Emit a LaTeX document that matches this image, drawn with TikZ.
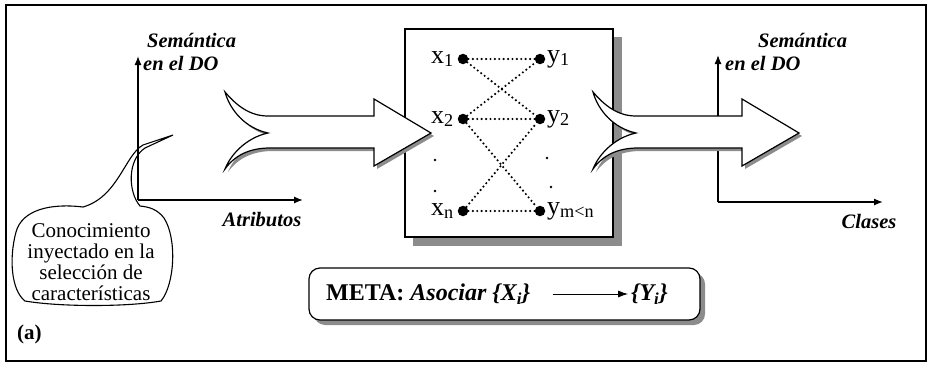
\documentclass[tikz,border=0pt]{standalone}
\usepackage{fontspec}
\setmainfont{Liberation Serif}
\usetikzlibrary{arrows.meta}
\begin{document}
\begin{tikzpicture}[x=1pt,y=-1pt,
  shade/.style={fill=black!45},
  axisline/.style={line width=1.3pt,-{Latex[length=9pt,width=7pt]}},
  axlbl/.style={font=\fontsize{20.5}{22}\selectfont\bfseries\itshape,inner sep=0pt},
  var/.style={font=\fontsize{26}{28}\selectfont,inner sep=0pt},
  dotn/.style={circle,fill=black,inner sep=0pt,minimum size=10.5pt},
  tinydot/.style={circle,fill=black,inner sep=0pt,minimum size=2.6pt},
  link/.style={line width=2.4pt,line cap=round,dash pattern=on 0pt off 4.4pt},
  fatarrow/.pic={
    \fill[shade,shift={(3,3)}] (0,92) .. controls (12,106) and (25,116) .. (43,116) -- (149,116) -- (149,99) -- (206,133) -- (149,166) -- (149,148) -- (45,148) .. controls (25,148) and (10,155) .. (0,169) .. controls (5,156) and (20,138) .. (43,133) .. controls (20,128) and (5,110) .. (0,92) -- cycle;
    \draw[fill=white,line width=1.2pt] (0,92) .. controls (12,106) and (25,116) .. (43,116) -- (149,116) -- (149,99) -- (206,133) -- (149,166) -- (149,148) -- (45,148) .. controls (25,148) and (10,155) .. (0,169) .. controls (5,156) and (20,138) .. (43,133) .. controls (20,128) and (5,110) .. (0,92) -- cycle;
  }
]
\useasboundingbox (0,0) rectangle (931,364);
% outer frame
\draw[line width=1.6pt] (6,5) rectangle (926,361);

% speech bubble
\draw[fill=white,line width=1.1pt] (83,207) .. controls (50,203) and (22,210) .. (16,232)
  .. controls (9,258) and (11,290) .. (25,301)
  .. controls (60,307) and (128,307) .. (161,301)
  .. controls (175,284) and (177,238) .. (164,218)
  .. controls (157,209) and (149,207) .. (140,206)
  .. controls (128,192) and (127,160) .. (145,148) -- (173,135) -- (143,145)
  .. controls (125,155) and (118,197) .. (83,207) -- cycle;
\node[align=center,inner sep=0pt,font=\fontsize{21}{21}\selectfont] (bubtxt) at (91,262)
  {Conocimiento\\inyectado en la\\selección de\\características};

% left axes
\coordinate (o1) at (138,200);
\coordinate (o1y) at (138,56);
\coordinate (o1x) at (303,200);
\draw[axisline] (o1) -- (o1y);
\draw[axisline] (o1) -- (o1x);
\node[axlbl,anchor=west] (sem1) at (147,40) {Semántica};
\node[axlbl,anchor=west] (do1) at (143,63) {en el DO};
\node[axlbl] (atr) at (262,220) {Atributos};

% right axes
\coordinate (o2) at (718,202);
\coordinate (o2y) at (718,55);
\coordinate (o2x) at (883,202);
\draw[axisline] (o2) -- (o2y);
\draw[axisline] (o2) -- (o2x);
\node[axlbl,anchor=west] (sem2) at (758,40) {Semántica};
\node[axlbl,anchor=west] (do2) at (725,63) {en el DO};
\node[axlbl] (cla) at (869,221) {Clases};

% central box
\fill[shade] (413,37) rectangle (622,246);
\draw[fill=white,line width=1.3pt] (405,29) rectangle (613,237);

% fat arrows
\pic at (225,0) {fatarrow};
\pic at (593,0) {fatarrow};

% bipartite nodes
\node[dotn] (x1) at (463,59) {};
\node[dotn] (x2) at (463,119) {};
\node[dotn] (xn) at (463,211) {};
\node[dotn] (y1) at (540,59) {};
\node[dotn] (y2) at (540,119) {};
\node[dotn] (ym) at (540,211) {};
\node[var,anchor=east] (lx1) at (454,59) {x\textsubscript{1}};
\node[var,anchor=east] (lx2) at (454,119) {x\textsubscript{2}};
\node[var,anchor=east] (lxn) at (454,211) {x\textsubscript{n}};
\node[var,anchor=west] (ly1) at (547,59) {y\textsubscript{1}};
\node[var,anchor=west] (ly2) at (547,119) {y\textsubscript{2}};
\node[var,anchor=west] (lym) at (547,211) {y\textsubscript{m<n}};
\node[tinydot] (d1) at (435,160) {};
\node[tinydot] (d2) at (435,191) {};
\node[tinydot] (d3) at (547,158) {};
\node[tinydot] (d4) at (551,187) {};
\draw[link] (x1) -- (y1);
\draw[link] (x1) -- (y2);
\draw[link] (x2) -- (y1);
\draw[link] (x2) -- (y2);
\draw[link] (x2) -- (ym);
\draw[link] (xn) -- (y2);
\draw[link] (xn) -- (ym);

% meta box
\fill[shade,rounded corners=11pt] (314,273) rectangle (705,325);
\draw[fill=white,line width=1.2pt,rounded corners=11pt] (309,268) rectangle (700,320);
\node[inner sep=0pt,anchor=west,font=\fontsize{24}{26}\selectfont] (meta) at (326,294)
  {\textbf{META:} \textbf{\textit{Asociar \{X\textsubscript{i}\}}}};
\node[inner sep=0pt,anchor=west,font=\fontsize{24}{26}\selectfont] (ys) at (631,294)
  {\textbf{\textit{\{Y\textsubscript{i}\}}}};
\draw[line width=0.8pt,-{Latex[length=10pt,width=7pt]},shorten <=22pt,shorten >=3pt] (meta.east) -- (ys.west);

% label (a)
\node[inner sep=0pt,anchor=west,font=\fontsize{21}{23}\selectfont\bfseries] (lab) at (17,334) {(a)};
\end{tikzpicture}
\end{document}
